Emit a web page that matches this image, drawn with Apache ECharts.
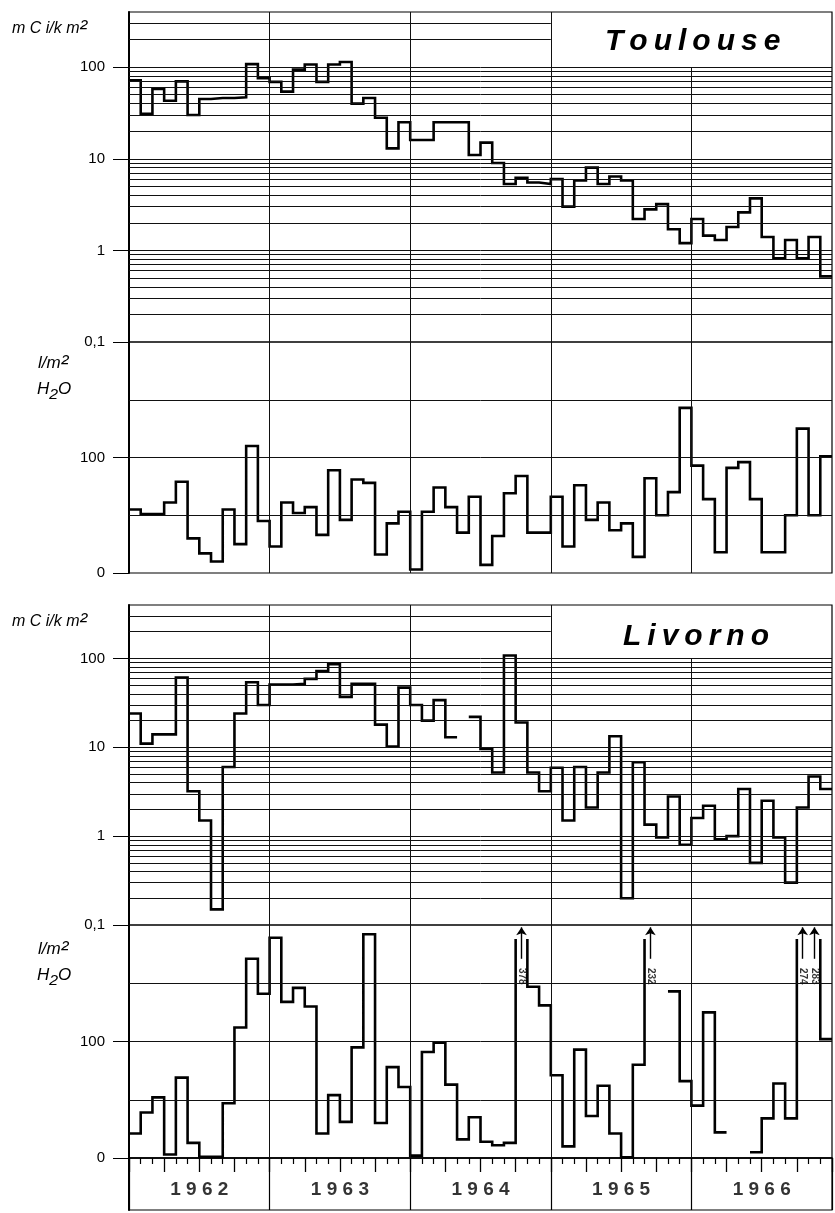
<!DOCTYPE html>
<html><head><meta charset="utf-8">
<script src="https://cdn.jsdelivr.net/npm/echarts@6/dist/echarts.min.js"></script>
<style>html,body{margin:0;padding:0;background:#fff}#c{width:835px;height:1213px}</style>
</head><body><div id="c"></div>
<script>
// ---------- data (monthly, Jan 1962 .. Dec 1966) ----------
const years = ['1962', '1963', '1964', '1965', '1966'];
const toulouseActivity = [72, 31, 58, 43, 70, 30, 45, 46, 46, 47, 108, 76,
  69, 54, 94, 107, 69, 107, 114, 40, 46, 28, 13, 25,
  16, 16, 25, 25, 25, 11, 15, 9, 5.3, 6.2, 5.5, 5.3,
  6.0, 3.0, 5.8, 8.0, 5.3, 6.4, 5.8, 2.2, 2.8, 3.2, 1.7, 1.2,
  2.2, 1.45, 1.3, 1.8, 2.6, 3.7, 1.4, 0.82, 1.3, 0.82, 1.4, 0.52];
const toulouseRain = [55, 51, 51, 61, 79, 30, 17, 10, 55, 25, 110, 45,
  23, 61, 52, 57, 33, 89, 46, 81, 78, 16, 43, 53,
  3, 53, 74, 57, 35, 66, 7, 32, 69, 84, 35, 35,
  66, 23, 76, 46, 61, 37, 43, 14, 82, 50, 70, 143,
  93, 64, 18, 91, 96, 64, 18, 18, 50, 125, 50, 101];
const livornoActivity = [24, 11, 14, 14, 61, 3.2, 1.5, 0.15, 6.0, 24, 54, 30,
  51, 51, 52, 59, 72, 86, 37, 52, 52, 18, 10.2, 47,
  30, 20, 34, 13, null, 22, 9.6, 5.2, 108, 19, 5.2, 3.2,
  5.9, 1.5, 6.0, 2.1, 5.2, 13.3, 0.2, 6.8, 1.35, 0.97, 2.8, 0.8,
  1.6, 2.2, 0.92, 1.0, 3.4, 0.5, 2.5, 0.97, 0.3, 2.1, 4.7, 3.4];
const livornoRain = [21, 39, 52, 3, 69, 13, 1, 1, 47, 112, 171, 141,
  189, 134, 146, 130, 21, 54, 31, 95, 192, 30, 78, 61,
  2, 91, 99, 63, 16, 35, 14, 11, 13, 378, 147, 131,
  71, 10, 93, 36, 62, 21, 0.5, 80, 232, null, 143, 66,
  45, 125, 22, null, null, 5, 34, 64, 34, 274, 283, 102];
const logTickValues = [0.1, 1, 10, 100];
const logGridFull = [0.2, 0.3, 0.4, 0.5, 0.6, 0.7, 0.8, 0.9, 1, 2, 3, 4, 5, 6, 7, 8, 9,
  10, 20, 30, 40, 50, 60, 70, 80, 90, 100];
const logGridUpper = [200, 300];
const rainTickValues = [0, 100];
const rainGrid = [50, 100, 150];
const yearBounds = [12, 24, 36, 48];

// ---------- constants ----------
const N = 60, LOG_MIN = 0.1, LOG_MAX = 400, RAIN_MAX = 200;
const CAP = 188, ARROW_FROM = 171, ARROW_TO = 198, LABEL_AT = 156;
const BOX_START = 36, BOX_BOTTOM = 100;
const FONT = "'Liberation Sans', Arial, 'DejaVu Sans', sans-serif";

// step outline: month i spans [i, i+1]; values above the axis top are cut at CAP with open top
function stepPath(vals, top) {
  const pts = [];
  let open = false;
  vals.forEach((v, i) => {
    if (v == null) { if (open) { pts.push([i, null]); open = false; } return; }
    const over = top != null && v > top;
    const y = over ? CAP : v;
    pts.push([i, y]);
    if (over) { pts.push([i, null]); pts.push([i + 1, y]); }
    else pts.push([i + 1, y]);
    open = true;
  });
  return pts;
}
function logFrame() {
  const d = [];
  logGridFull.forEach(v => d.push([{ coord: [0, v] }, { coord: [N, v] }]));
  logGridUpper.forEach(v => d.push([{ coord: [0, v] }, { coord: [BOX_START, v] }]));
  yearBounds.forEach(x => d.push([{ coord: [x, LOG_MIN] }, { coord: [x, x > BOX_START ? BOX_BOTTOM : LOG_MAX] }]));
  return d;
}
function rainFrame() {
  const d = [];
  rainGrid.forEach(v => d.push([{ coord: [0, v] }, { coord: [N, v] }]));
  yearBounds.forEach(x => d.push([{ coord: [x, 0] }, { coord: [x, RAIN_MAX] }]));
  return d;
}
const overflow = [];
livornoRain.forEach((v, i) => { if (v != null && v > RAIN_MAX) overflow.push({ m: i, v: v }); });

const gridsPx = [
  { top: 12, height: 330 }, { top: 342, height: 231 },
  { top: 605, height: 320 }, { top: 925, height: 233 },
  { top: 1158, height: 52 }
];
const grid = gridsPx.map(g => ({ left: 129, width: 703, top: g.top, height: g.height,
  show: true, borderColor: '#000', borderWidth: 1.2, backgroundColor: 'transparent' }));

const xAxis = gridsPx.map((g, k) => ({
  type: 'value', gridIndex: k, min: 0, max: N,
  interval: k === 3 ? 3 : 12,
  axisLine: { show: k === 3, onZero: false, lineStyle: { color: '#000', width: 1.5 } },
  axisTick: { show: k === 3, inside: false, length: 14, lineStyle: { color: '#000', width: 1.3 } },
  minorTick: { show: k === 3, splitNumber: 3, length: 6, lineStyle: { color: '#000', width: 1.2 } },
  axisLabel: { show: false },
  splitLine: { show: k === 4, lineStyle: { color: '#000', width: 1.2 } }
}));
function logY(k) {
  return { type: 'log', gridIndex: k, logBase: 10, min: LOG_MIN, max: LOG_MAX,
    axisLine: { show: true, lineStyle: { color: '#000', width: 2 } },
    axisTick: { show: true, length: 16, customValues: logTickValues, lineStyle: { color: '#000', width: 1 } },
    axisLabel: { customValues: logTickValues, margin: 24, color: '#000', fontSize: 15, fontFamily: FONT,
      formatter: v => String(v).replace('.', ',') },
    splitLine: { show: false } };
}
function rainY(k) {
  return { type: 'value', gridIndex: k, min: 0, max: RAIN_MAX, interval: 50,
    axisLine: { show: true, onZero: false, lineStyle: { color: '#000', width: 2 } },
    axisTick: { show: true, length: 16, customValues: rainTickValues, lineStyle: { color: '#000', width: 1 } },
    axisLabel: { customValues: rainTickValues, margin: 24, color: '#000', fontSize: 15, fontFamily: FONT },
    splitLine: { show: false } };
}
const yAxis = [logY(0), rainY(1), logY(2), rainY(3),
  { type: 'value', gridIndex: 4, min: 0, max: 1, axisLine: { show: true, lineStyle: { color: '#000', width: 2 } },
    axisTick: { show: false }, axisLabel: { show: false }, splitLine: { show: false } }];

const frameLine = (k, data) => ({
  type: 'line', xAxisIndex: k, yAxisIndex: k, data: [], silent: true, z: 1,
  markLine: { silent: true, symbol: 'none', animation: false, label: { show: false },
    lineStyle: { color: '#111', width: 1, type: 'solid' }, emphasis: { disabled: true }, data: data }
});
const dataLine = (k, vals, top) => ({
  type: 'line', xAxisIndex: k, yAxisIndex: k, data: stepPath(vals, top), silent: true, z: 3,
  showSymbol: false, symbol: 'none', connectNulls: false,
  lineStyle: { color: '#000', width: 2.6, join: 'miter', cap: 'butt' }
});

const series = [
  frameLine(0, logFrame()), frameLine(1, rainFrame()), frameLine(2, logFrame()), frameLine(3, rainFrame()),
  dataLine(0, toulouseActivity), dataLine(1, toulouseRain, RAIN_MAX),
  dataLine(2, livornoActivity), dataLine(3, livornoRain, RAIN_MAX),
  { type: 'line', xAxisIndex: 3, yAxisIndex: 3, data: [], silent: true, z: 4,
    markLine: { silent: true, symbol: ['none', 'arrow'], symbolSize: 8, animation: false,
      label: { show: false }, lineStyle: { color: '#000', width: 1.4, type: 'solid' },
      emphasis: { disabled: true },
      data: overflow.map(o => [{ coord: [o.m + 0.5, ARROW_FROM] }, { coord: [o.m + 0.5, ARROW_TO] }]) } },
  { type: 'scatter', xAxisIndex: 3, yAxisIndex: 3, symbolSize: 0, silent: true, z: 4,
    data: overflow.map(o => [o.m + 0.5, LABEL_AT, o.v]),
    label: { show: true, position: 'inside', rotate: -90, color: '#000', fontSize: 10, fontWeight: 'bold',
      fontFamily: FONT, formatter: p => String(p.value[2]) } },
  { type: 'scatter', xAxisIndex: 4, yAxisIndex: 4, symbolSize: 0, silent: true,
    data: years.map((y, i) => [i * 12 + 6, 0.5, y]),
    label: { show: true, position: 'inside', offset: [0, 6], color: '#000', fontSize: 19, fontWeight: 'bold',
      fontFamily: FONT, formatter: p => p.value[2].split('').join(' ') } }
];

const unitStyle = { fill: '#000', font: 'italic 16px ' + FONT,
  rich: { s: { fontSize: 23, fontStyle: 'italic', fontFamily: FONT, fill: '#000' } } };
const txt = (left, top, text, size) => ({ type: 'text', left: left, top: top, silent: true,
  style: Object.assign({}, unitStyle, { text: text }, size ? { font: 'italic ' + size + 'px ' + FONT } : {}) });
const titleStyle = { font: 'italic bold 30px ' + FONT, fill: '#000' };
const graphic = [
  txt(12, 17, 'm C i/k m{s|²}'),
  txt(38, 352, 'l/m{s|²}', 17),
  txt(37, 378, 'H{s|₂}O', 17),
  txt(12, 610, 'm C i/k m{s|²}'),
  txt(38, 938, 'l/m{s|²}', 17),
  txt(37, 964, 'H{s|₂}O', 17),
  { type: 'text', left: 605, top: 27, silent: true, style: Object.assign({ text: 'T\u2009o\u2009u\u2009l\u2009o\u2009u\u2009s\u2009e' }, titleStyle) },
  { type: 'text', left: 623, top: 622, silent: true, style: Object.assign({ text: 'L\u2009i\u2009v\u2009o\u2009r\u2009n\u2009o' }, titleStyle) }
];

const chart = echarts.init(document.getElementById('c'), null, { renderer: 'canvas' });
chart.setOption({ animation: false, backgroundColor: '#fff', grid, xAxis, yAxis, series, graphic });
</script></body></html>
